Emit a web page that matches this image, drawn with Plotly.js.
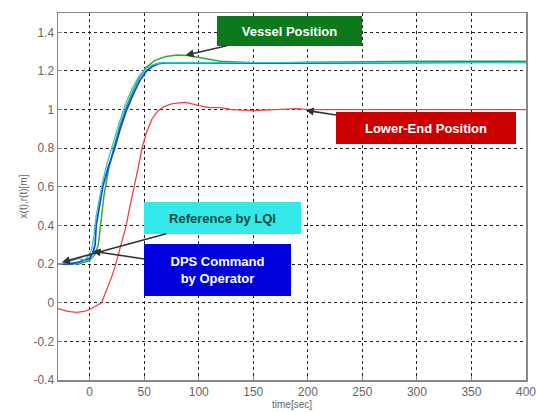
<!DOCTYPE html>
<html>
<head>
<meta charset="utf-8">
<script src="https://cdn.plot.ly/plotly-3.0.1.min.js"></script>
<style>html,body{margin:0;padding:0;background:#fff;}#chart{width:538px;height:412px;}</style>
</head>
<body>
<div id="chart"></div>
<script>
// Time axis values (sec) and series
const tBlue = [-29,-20,-10,-5,0,3,5,6,9,12,17,23,28,34,40,46,52,58,63,70,100,150,200,250,300,350,400];
const blueVals = [0.2,0.2,0.21,0.22,0.23,0.26,0.3,0.4,0.5,0.6,0.7,0.8,0.9,1.0,1.08,1.15,1.2,1.225,1.238,1.242,1.242,1.24,1.24,1.242,1.245,1.245,1.245];

const tCyan = [-29,-20,-15,-10,-5,0,2,4,6,9,12,16,21,27,33,39,45,51,57,63,70,100,150,200,250,300,350,400];
const cyanVals = [0.2,0.21,0.22,0.23,0.22,0.25,0.28,0.35,0.45,0.55,0.63,0.72,0.82,0.93,1.03,1.11,1.17,1.21,1.23,1.24,1.243,1.243,1.242,1.242,1.244,1.245,1.245,1.245];

const tGreen = [-29,-10,0,5,8,10,13,17,22,28,34,40,46,52,60,70,80,90,100,110,120,140,160,200,250,300,350,400];
const greenVals = [0.2,0.2,0.22,0.25,0.3,0.4,0.55,0.68,0.8,0.92,1.02,1.1,1.17,1.22,1.255,1.275,1.283,1.28,1.27,1.26,1.25,1.245,1.24,1.245,1.248,1.25,1.25,1.25];

const tRed = [-29,-20,-12,-5,0,5,11,15,20,24,29,33.5,37,41,44.5,48,52,57,62,68,75,82,88,94,100,110,120,130,150,170,190,200,220,250,300,350,400];
const redVals = [-0.03,-0.045,-0.05,-0.045,-0.035,-0.02,0,0.06,0.13,0.2,0.3,0.4,0.5,0.6,0.7,0.8,0.88,0.95,0.99,1.015,1.03,1.035,1.037,1.03,1.02,1.01,1.01,1.0,0.995,1.0,1.005,1.0,1.0,1.0,1.0,1.0,1.0];

const xTicks = [0,50,100,150,200,250,300,350,400];
const yTicks = [-0.4,-0.2,0,0.2,0.4,0.6,0.8,1,1.2,1.4];
const yTickText = ['-0.4','-0.2','0','0.2','0.4','0.6','0.8','1','1.2','1.4'];

const traces = [
  {x: tRed, y: redVals, mode: 'lines', line: {color: '#ee4444', width: 1.3}, name: 'Lower-End Position'},
  {x: tGreen, y: greenVals, mode: 'lines', line: {color: '#33aa33', width: 1.5}, name: 'Vessel Position'},
  {x: tBlue, y: blueVals, mode: 'lines', line: {color: '#2244dd', width: 1.8}, name: 'DPS Command'},
  {x: tCyan, y: cyanVals, mode: 'lines', line: {color: '#22cccc', width: 1.3}, name: 'Reference by LQI'}
];

const annFont = {family: 'Liberation Sans, Arial, sans-serif', size: 13, color: '#ffffff', weight: 'bold'};
const ann = (x, y, ax, ay, text, bg, w, h, fc) => ({
  x: x, y: y, xref: 'x', yref: 'y', ax: ax, ay: ay, axref: 'pixel', ayref: 'pixel',
  text: text, showarrow: true, arrowhead: 2, arrowsize: 1, arrowwidth: 1.6, arrowcolor: '#333333',
  bgcolor: bg, bordercolor: bg, borderwidth: 1, borderpad: 2, width: w, height: h,
  font: Object.assign({}, annFont, {color: fc})
});

const tickFont = {family: 'Liberation Sans, Arial, sans-serif', size: 12, color: '#666'};

const layout = {
  width: 538, height: 412,
  margin: {l: 58, r: 12, t: 13, b: 32},
  paper_bgcolor: '#ffffff', plot_bgcolor: '#ffffff',
  showlegend: false,
  xaxis: {
    range: [-29, 400], tickvals: xTicks, ticktext: xTicks.map(String),
    showgrid: true, gridcolor: '#222', griddash: 'dot', gridwidth: 1,
    zeroline: false, showline: true, linecolor: '#888', linewidth: 1.5, mirror: true,
    ticks: 'inside', ticklen: 4, tickcolor: '#888',
    tickfont: tickFont,
    title: {text: 'time[sec]', font: {family: 'Liberation Sans, Arial, sans-serif', size: 10, color: '#666'}, standoff: 1}
  },
  yaxis: {
    range: [-0.4, 1.5], tickvals: yTicks, ticktext: yTickText,
    showgrid: true, gridcolor: '#222', griddash: 'dot', gridwidth: 1,
    zeroline: false, showline: true, linecolor: '#888', linewidth: 1.5, mirror: true,
    ticks: 'inside', ticklen: 4, tickcolor: '#888',
    tickfont: tickFont,
    title: {text: 'x(t),r(t)[m]', font: {family: 'Liberation Sans, Arial, sans-serif', size: 10, color: '#666'}, standoff: 4}
  },
  annotations: [
    ann(88, 1.281, 104, -24, 'Vessel Position', '#0c7a1c', 139, 24, '#ffffff'),
    ann(198, 0.996, 120, 18, 'Lower-End Position', '#cc0000', 174, 26, '#ffffff'),
    ann(-25.4, 0.21, 161, -44, 'Reference by LQI', '#33e8e8', 151, 26, '#0a4a3a'),
    ann(2.7, 0.267, 125, 19, 'DPS Command<br>by Operator', '#0000dd', 141, 46, '#ffffff')
  ]
};

Plotly.newPlot('chart', traces, layout, {displayModeBar: false, staticPlot: true});
</script>
</body>
</html>
